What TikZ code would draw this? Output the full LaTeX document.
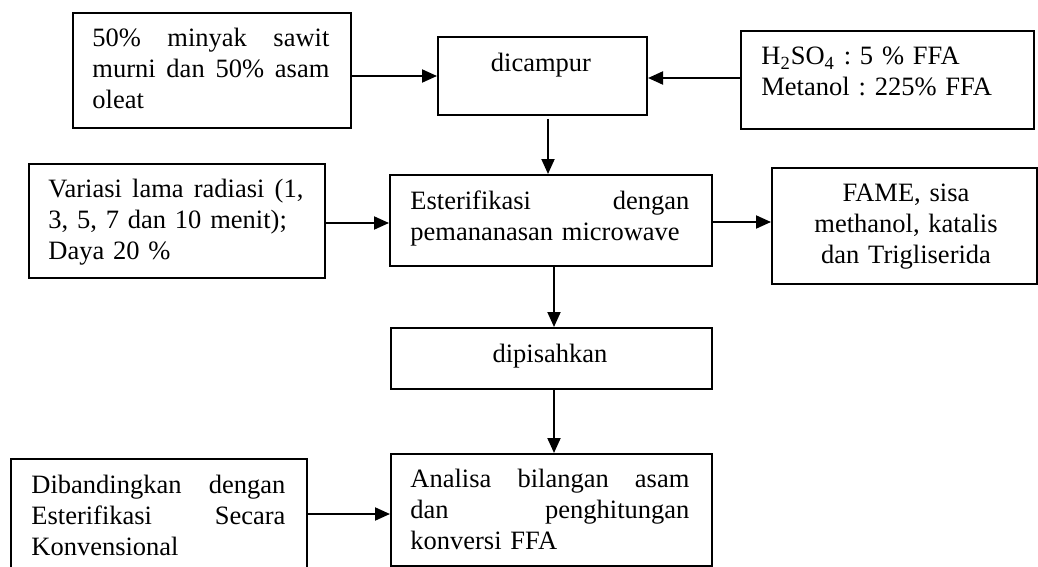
\documentclass[tikz,border=0pt]{standalone}
\usepackage{fontspec}
\setmainfont{Liberation Serif}
\usetikzlibrary{arrows.meta}
\frenchspacing
\tikzset{
  box/.style={draw, line width=1pt, inner sep=0pt, anchor=north west},
  txt/.style={inner sep=0pt, anchor=base west, align=left,
    font=\fontsize{13.25pt}{15.5pt}\selectfont},
  ctxt/.style={inner sep=0pt, anchor=base, align=center,
    font=\fontsize{13.25pt}{15.5pt}\selectfont},
  arr/.style={line width=1pt, -{Triangle[length=7.5pt,width=6.5pt]}}
}
\newcommand{\bx}[5]{\node[box, minimum width=#4*0.5pt-#2*0.5pt, minimum height=#5*0.5pt-#3*0.5pt] (#1) at (#2,#3) {};}
\begin{document}
\begin{tikzpicture}[x=0.5pt,y=-0.5pt]
\useasboundingbox (0,0) rectangle (1038,567);
\clip (0,0) rectangle (1038,567);
% boxes
\bx{mix}{72}{12}{350}{127}
\bx{cam}{437}{36}{646}{114}
\bx{kat}{740}{30}{1033}{128}
\bx{var}{28}{163}{324}{277}
\bx{est}{389}{174}{711}{265}
\bx{fame}{771}{167}{1036}{283}
\bx{pis}{390}{327}{711}{388}
\bx{ana}{390}{453}{711}{565}
\bx{ban}{10}{458}{306}{590}
% texts
\node[txt, text width=237*0.5pt] (tmix) at (92,47)
  {50\%\hfill minyak\hfill sawit\\ murni\hfill dan\hfill 50\%\hfill asam\\ oleat};
\node[ctxt] (tcam) at (541,72) {dicampur};
\node[txt, text width=260*0.5pt] (tkat) at (761,65)
  {H\textsubscript{2}SO\textsubscript{4} : 5 \% FFA\\ Metanol : 225\% FFA};
\node[txt, text width=255*0.5pt] (tvar) at (48,197)
  {Variasi\hfill lama\hfill radiasi\hfill (1,\\ 3, 5, 7 dan 10 menit);\\ Daya 20 \%};
\node[txt, text width=279*0.5pt] (test) at (410,209)
  {Esterifikasi\hfill dengan\\ pemananasan microwave};
\node[ctxt, text width=240*0.5pt] (tfame) at (906,201)
  {FAME, sisa\\ methanol, katalis\\ dan Trigliserida};
\node[ctxt] (tpis) at (550,362) {dipisahkan};
\node[txt, text width=279*0.5pt] (tana) at (410,487)
  {Analisa\hfill bilangan\hfill asam\\ dan\hfill penghitungan\\ konversi FFA};
\node[txt, text width=254*0.5pt] (tban) at (31,493)
  {Dibandingkan\hfill dengan\\ Esterifikasi\hfill Secara\\ Konvensional};
% arrows
\draw[arr] (mix.east |- 0,76) -- (cam.west |- 0,76);
\draw[arr] (kat.west |- 0,78) -- (cam.east |- 0,78);
\draw[arr] (548,119) -- (est.north -| 548,0);
\draw[arr] (var.east |- 0,223) -- (est.west |- 0,223);
\draw[arr] (est.east |- 0,222) -- (fame.west |- 0,222);
\draw[arr] (est.south -| 554,0) -- (pis.north -| 554,0);
\draw[arr] (pis.south -| 554,0) -- (ana.north -| 554,0);
\draw[arr] (ban.east |- 0,514) -- (ana.west |- 0,514);
\end{tikzpicture}
\end{document}
